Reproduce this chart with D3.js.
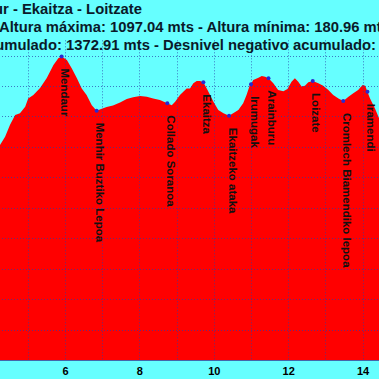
<!DOCTYPE html>
<html><head><meta charset="utf-8">
<script src="https://cdn.jsdelivr.net/npm/d3@7"></script>
<style>html,body{margin:0;padding:0;background:#66ffff;overflow:hidden}</style>
</head><body>
<svg id="c" width="379" height="379"></svg>
<script>
const titleLines = ["Mendaur - Ekaitza - Loitzate",
  "Altura máxima: 1097.04 mts - Altura mínima: 180.96 mts",
  "Desnivel positivo acumulado: 1372.91 mts - Desnivel negativo acumulado:"];
const distKm = [4.17,4.39,4.52,4.66,4.79,4.93,5.01,5.15,5.33,5.51,5.69,5.82,5.91,6.05,6.18,6.32,6.45,6.58,6.72,6.85,6.97,7.12,7.29,7.48,7.66,7.83,8.02,8.20,8.37,8.55,8.75,8.87,8.96,9.09,9.27,9.36,9.45,9.54,9.63,9.72,9.81,9.90,9.99,10.12,10.26,10.41,10.52,10.66,10.79,10.88,10.97,11.00,11.06,11.20,11.29,11.38,11.47,11.60,11.73,11.87,11.98,12.09,12.18,12.27,12.36,12.45,12.54,12.66,12.81,12.94,13.08,13.21,13.35,13.48,13.62,13.75,13.88,14.00,14.07,14.13,14.20,14.33,14.44,14.60];
const elevM = [790,833,872,905,910,932,959,970,993,1026,1069,1091,1097,1085,1058,1025,992,970,937,919,924,931,936,946,957,963,967,965,959,954,943,937,948,970,992,992,1009,1016,1016,1012,992,970,948,921,910,902,910,921,943,970,1003,1006,1020,1027,1033,1030,1025,1009,987,983,990,1014,1025,1014,998,1001,1012,1016,1009,1001,987,970,959,951,965,976,987,1003,1001,981,959,927,895,855];
const wpNames = ["Mendaur","Menhir Buztiko Lepoa","Collado Soranoa","Ekaitza","Ekaitzeko ataka","Irumugak","Arainburu","Loizate","Cromlech Biamendiko lepoa","Iramendi"];
const wpKm = [5.91,6.85,8.75,9.72,10.41,11.00,11.47,12.66,13.48,14.13];
const wpElev = [1097,919,943,1012,902,1006,1025,1016,951,981];
const xTicks = [6,8,10,12,14];

const svg = d3.select("#c");
const x = d3.scaleLinear().domain([4,15]).range([-9.4,399.8]);
const y = d3.scaleLinear().domain([100,1150]).range([360,40.3]);
const data = distKm.map((d,i)=>({d, e: elevM[i]}));

svg.append("path").datum(data)
  .attr("fill","#ff0000")
  .attr("d", d3.area().x(p=>x(p.d)).y0(y(100)).y1(p=>y(p.e)));

// grid
const g = svg.append("g").attr("stroke","#2a3fa8").attr("stroke-opacity",0.7).attr("stroke-dasharray","1,2").attr("stroke-width",1);
d3.range(4,16,1).forEach(k=>{
  g.append("line").attr("x1",Math.round(x(k))+0.5).attr("x2",Math.round(x(k))+0.5).attr("y1",y(1150)).attr("y2",y(100));
});
d3.range(200,1200,100).forEach(v=>{
  g.append("line").attr("x1",-10).attr("x2",390).attr("y1",Math.round(y(v))+0.5).attr("y2",Math.round(y(v))+0.5);
});

// axis
const ax = svg.append("g").attr("transform",`translate(0,${y(100)})`)
  .call(d3.axisBottom(x).tickValues(xTicks).tickSize(0).tickPadding(7).tickFormat(d3.format("d")));
ax.select(".domain").attr("stroke","#4466aa").attr("d","M-10,0.5H390");
ax.selectAll("text").attr("font-family","Liberation Sans, Arial, sans-serif").attr("font-weight","bold").attr("font-size","11px").attr("fill","#000");

// waypoints
svg.selectAll("circle.wp").data(wpKm).join("circle")
  .attr("cx",(d)=>x(d)).attr("cy",(d,i)=>y(wpElev[i])).attr("r",2).attr("fill","#2a2ad0");
svg.selectAll("text.wp").data(wpNames).join("text")
  .attr("transform",(d,i)=>`translate(${x(wpKm[i])-0.5},${y(wpElev[i])+12}) rotate(90)`)
  .attr("font-family","Liberation Sans, Arial, sans-serif").attr("font-weight","bold").attr("font-size","11.5px")
  .attr("fill","#111").text(d=>d);

// titles
const tf = "Liberation Sans, Arial, sans-serif";
svg.append("text").attr("x",142).attr("y",14).attr("text-anchor","end").attr("font-family",tf).attr("font-weight","bold").attr("font-size","14.8px").attr("fill","#0a1a2a").text(titleLines[0]);
svg.append("text").attr("x",-1).attr("y",32).attr("text-anchor","start").attr("font-family",tf).attr("font-weight","bold").attr("font-size","14.8px").attr("fill","#0a1a2a").text(titleLines[1]);
svg.append("text").attr("x",376).attr("y",50).attr("text-anchor","end").attr("font-family",tf).attr("font-weight","bold").attr("font-size","14.8px").attr("fill","#0a1a2a").text(titleLines[2]);
</script>
</body></html>
